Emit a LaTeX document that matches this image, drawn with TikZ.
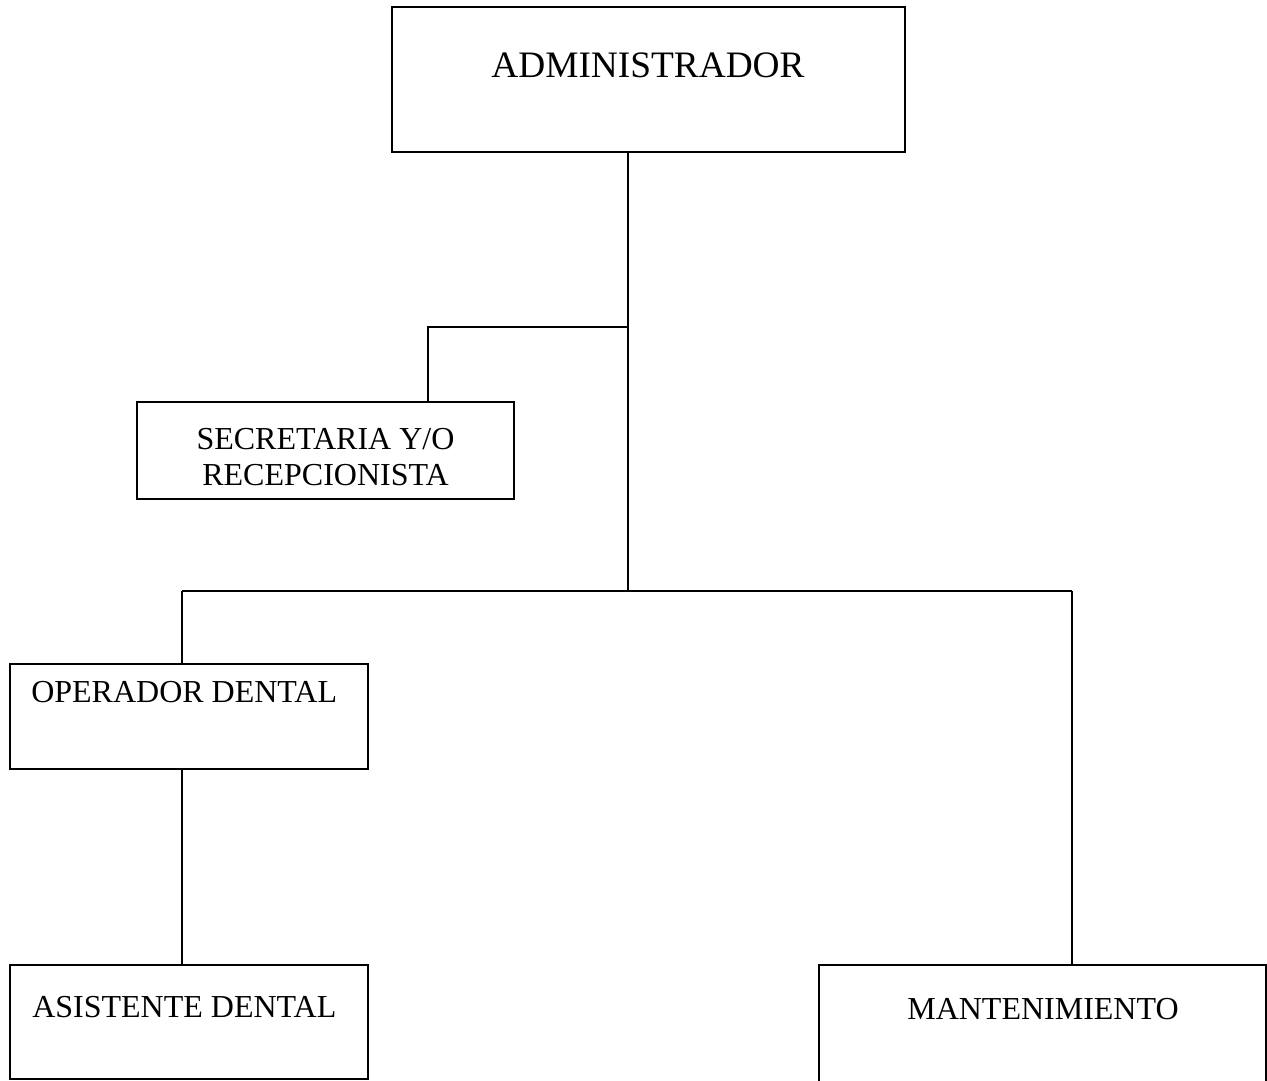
\documentclass[tikz,border=0pt]{standalone}
\usepackage{fontspec}
\setmainfont{Liberation Serif}
\usetikzlibrary{fit}
\begin{document}
\begin{tikzpicture}[x=0.75pt,y=-0.75pt,
  box/.style={draw, line width=1pt, inner sep=0pt},
  conn/.style={line width=1pt},
  bigtxt/.style={inner sep=0pt, font=\fontsize{28}{33}\selectfont},
  txt/.style={inner sep=0pt, font=\fontsize{24}{27}\selectfont}]
\useasboundingbox (0,0) rectangle (1267,1081);
\clip (0,0) rectangle (1267,1081);
\fill[white] (0,0) rectangle (1267,1081);
% boxes
\node[box, fit={(392,7) (905,152)}] (admin) {};
\node[box, fit={(137,402) (514,499)}] (sec) {};
\node[box, fit={(10,664) (368,769)}] (op) {};
\node[box, fit={(10,965) (368,1079)}] (asis) {};
\node[box, fit={(819,965) (1266,1110)}] (mant) {};
% texts
\node[bigtxt, anchor=base] (tadmin) at (648,78) {ADMINISTRADOR};
\node[txt, anchor=base, align=center] (tsec) at (325.5,485) {SECRETARIA Y/O\\RECEPCIONISTA};
\node[txt, anchor=base west] (top) at (31,702) {OPERADOR DENTAL};
\node[txt, anchor=base west] (tasis) at (32,1017) {ASISTENTE DENTAL};
\node[txt, anchor=base] (tmant) at (1043,1019) {MANTENIMIENTO};
% junctions
\coordinate (j1) at (628,327);
\coordinate (j2) at (628,591);
\coordinate (c1) at (428,327);
\coordinate (c2) at (182,591);
\coordinate (c3) at (1072,591);
% connectors
\draw[conn] (admin.south -| j1) -- (j2);
\draw[conn] (j1) -- (c1) -- (c1 |- sec.north);
\draw[conn] (c2) -- (c3);
\draw[conn] (c2) -- (c2 |- op.north);
\draw[conn] (c3) -- (c3 |- mant.north);
\draw[conn] (op.south -| c2) -- (c2 |- asis.north);
\end{tikzpicture}
\end{document}
